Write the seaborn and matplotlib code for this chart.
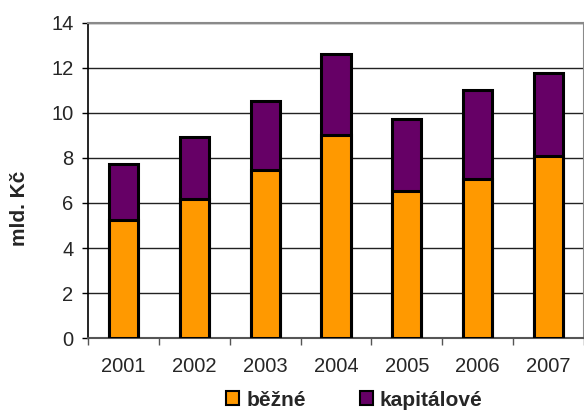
import matplotlib
matplotlib.use("Agg")
import matplotlib.pyplot as plt
import seaborn as sns
import numpy as np
from matplotlib.patches import Patch
from matplotlib.ticker import FixedLocator

years = ["2001", "2002", "2003", "2004", "2005", "2006", "2007"]
bezne = [5.24, 6.16, 7.47, 9.02, 6.52, 7.05, 8.09]
kapitalove = [2.49, 2.76, 3.05, 3.60, 3.20, 3.95, 3.69]
series_names = ["běžné", "kapitálové"]
colors = ["#FF9900", "#660066"]

totals = [b + k for b, k in zip(bezne, kapitalove)]

sns.set_style("white")
plt.rcParams["font.family"] = ["Liberation Sans", "DejaVu Sans"]

fig = plt.figure(figsize=(5.84, 4.12), dpi=100)
ax = fig.add_axes([0.1507, 0.1796, 0.8493, 0.7646])

ax.yaxis.grid(True, color="#222222", linewidth=1.0)
ax.set_axisbelow(True)

sns.barplot(x=years, y=totals, color=colors[1], edgecolor="black",
            linewidth=2.2, width=0.41, saturation=1, ax=ax, zorder=2)
sns.barplot(x=years, y=bezne, color=colors[0], edgecolor="black",
            linewidth=2.2, width=0.41, saturation=1, ax=ax, zorder=3)

ax.set_xlim(-0.5, 6.5)
ax.set_ylim(0, 14)
ax.set_yticks(np.arange(0, 15, 2))
ax.tick_params(axis="y", which="major", direction="out", length=4.5, width=1,
               color="black", labelsize=14.5, left=True, pad=6)
ax.tick_params(axis="x", which="major", length=0, labelsize=14.5, pad=14)
ax.xaxis.set_minor_locator(FixedLocator(np.arange(-0.5, 7.0, 1.0)))
ax.tick_params(axis="x", which="minor", direction="out", length=5, width=1,
               color="#555555", bottom=True)

for side in ["top", "right"]:
    ax.spines[side].set_visible(True)
    ax.spines[side].set_color("#8a8a8a")
    ax.spines[side].set_linewidth(1.5)
ax.spines["left"].set_color("black")
ax.spines["left"].set_linewidth(1.2)
ax.spines["bottom"].set_color("#555555")
ax.spines["bottom"].set_linewidth(1.5)

ax.set_xlabel("")
ax.set_ylabel("mld. Kč", fontsize=15, fontweight="bold")
ax.yaxis.set_label_coords(-0.119, 0.413)

handles = [Patch(facecolor=c, edgecolor="black", linewidth=1.5, label=n)
           for c, n in zip(colors, series_names)]
leg = fig.legend(handles=handles, loc="center", bbox_to_anchor=(0.607, 0.029),
                 ncol=2, frameon=False, prop={"weight": "bold", "size": 15},
                 handlelength=0.63, handleheight=0.63, handletextpad=0.33,
                 columnspacing=2.6, borderpad=0.1)

fig.savefig("out.png", dpi=100)
